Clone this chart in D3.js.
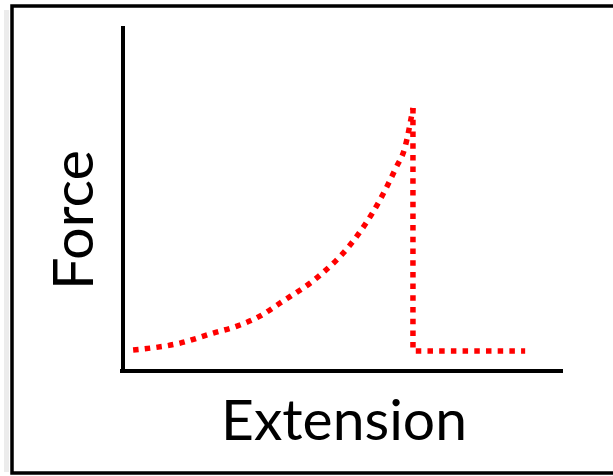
<!DOCTYPE html>
<html><head><meta charset="utf-8">
<script src="https://cdn.jsdelivr.net/npm/d3@7/dist/d3.min.js"></script>
<style>html,body{margin:0;padding:0;background:#fff;overflow:hidden}</style>
</head><body>
<svg id="c" width="613" height="476"></svg>
<script>
// data (arbitrary units: extension 0-100, force 0-100)
const curveExtension = [2.3, 13, 20.5, 25.9, 31.1, 35.7, 44.8, 51.6, 58.4, 62, 64.1, 65.9];
const curveForce     = [6.1, 8.1, 11, 13, 15.9, 19.7, 27.8, 36.5, 49.6, 58.8, 64.9, 76.2];
const breakExtension = [65.9, 65.9, 91.4];
const breakForce     = [76.2, 5.8, 5.8];
const xLabel = "Extension";
const yLabel = "Force";

const svg = d3.select("#c");
// frame with faint shadow
svg.append("rect").attr("x",4).attr("y",10).attr("width",5).attr("height",462).attr("fill","#ececec");
svg.append("rect").attr("x",12).attr("y",6).attr("width",700).attr("height",467)
  .attr("fill","none").attr("stroke","#000").attr("stroke-width",3.5);

const x = d3.scaleLinear().domain([0,100]).range([123,563]);
const y = d3.scaleLinear().domain([0,100]).range([371,26]);

const xAxis = svg.append("g").attr("transform",`translate(0,${y(0)})`)
  .call(d3.axisBottom(x).ticks(0).tickSizeOuter(0));
const yAxis = svg.append("g").attr("transform",`translate(${x(0)},0)`)
  .call(d3.axisLeft(y).ticks(0).tickSizeOuter(0));
[xAxis,yAxis].forEach(g=>g.select(".domain").attr("stroke","#000").attr("stroke-width",4));
xAxis.select(".domain").attr("d",`M${x(0)-3},0H${x(100)}`);
yAxis.select(".domain").attr("d",`M0,${y(100)}V${y(0)+2}`);

const curveData = curveExtension.map((e,i)=>[e,curveForce[i]]);
const breakData = breakExtension.map((e,i)=>[e,breakForce[i]]);

const lineCurve = d3.line().x(d=>x(d[0])).y(d=>y(d[1])).curve(d3.curveMonotoneX);
const lineBreak = d3.line().x(d=>x(d[0])).y(d=>y(d[1]));

svg.append("path").datum(curveData).attr("d",lineCurve)
  .attr("fill","none").attr("stroke","#ff0000").attr("stroke-width",5.5).attr("stroke-dasharray","5.5,6.2");
svg.append("path").datum(breakData).attr("d",lineBreak)
  .attr("fill","none").attr("stroke","#ff0000").attr("stroke-width",5.5).attr("stroke-dasharray","5.5,6.2");

svg.append("text").attr("x",344).attr("y",440).attr("text-anchor","middle")
  .attr("font-family","Lato, 'Open Sans', sans-serif").attr("font-size",56)
  .attr("textLength",246).attr("lengthAdjust","spacingAndGlyphs")
  .attr("fill","#000").text(xLabel);
svg.append("text").attr("transform","translate(93,220) rotate(-90)").attr("text-anchor","middle")
  .attr("font-family","Lato, 'Open Sans', sans-serif").attr("font-size",56)
  .attr("textLength",140).attr("lengthAdjust","spacingAndGlyphs")
  .attr("fill","#000").text(yLabel);
</script>
</body></html>
